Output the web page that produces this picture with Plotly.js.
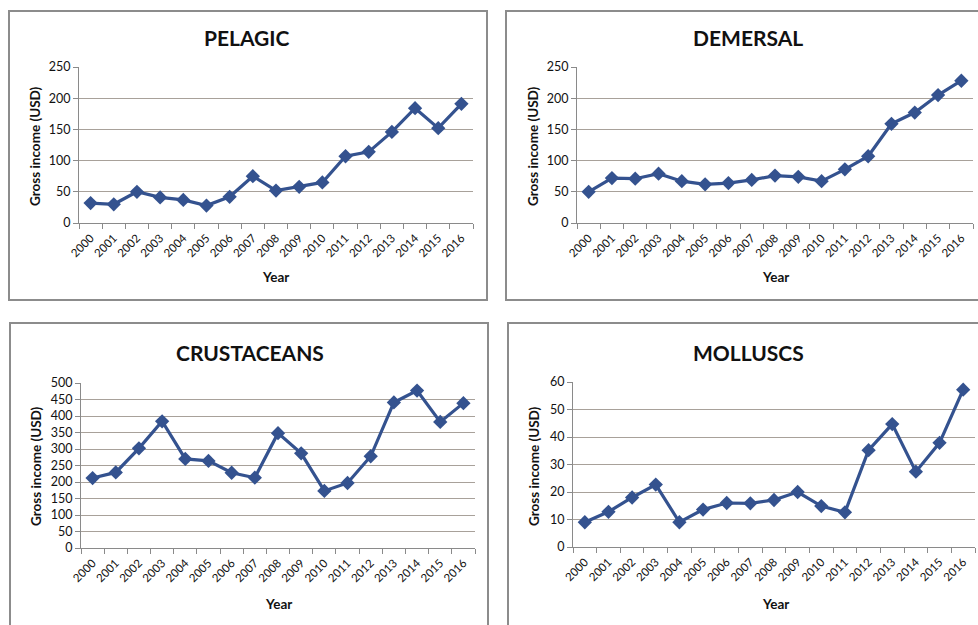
<!DOCTYPE html>
<html>
<head>
<meta charset="utf-8">
<script src="https://cdn.plot.ly/plotly-3.0.1.min.js"></script>
<style>
html,body{margin:0;padding:0;background:#fff;}
#chart{width:978px;height:625px;}
</style>
</head>
<body>
<div id="chart"></div>
<script>
const years = ["2000","2001","2002","2003","2004","2005","2006","2007","2008","2009","2010","2011","2012","2013","2014","2015","2016"];
const pelagic = [32, 30, 50, 41, 37, 28, 42, 75, 52, 58, 65, 107, 114, 146, 184, 152, 191];
const demersal = [50, 72, 71, 79, 67, 62, 64, 69, 76, 74, 67, 86, 107, 159, 177, 205, 228];
const crustaceans = [212, 229, 302, 384, 270, 264, 228, 213, 348, 287, 173, 197, 278, 441, 477, 382, 439];
const molluscs = [9, 12.8, 18, 22.7, 9, 13.6, 16, 15.9, 17.1, 20, 14.9, 12.6, 35.2, 44.7, 27.4, 37.9, 57.2];
const panelTitles = ["PELAGIC", "DEMERSAL", "CRUSTACEANS", "MOLLUSCS"];
const yTitle = "Gross income (USD)";
const xTitle = "Year";
const yMax = [250, 250, 500, 60];
const yStep = [50, 50, 50, 10];

const W = 978, H = 625;
const px = x => x / W;
const py = y => 1 - y / H;

const series = [pelagic, demersal, crustaceans, molluscs];
// plot areas in pixels [x0, x1, yTop, yBottom]
const areas = [[79, 473, 67, 223], [577, 973, 67, 223], [81, 475, 383, 548], [573, 975, 382, 547]];
// frames [x0, x1, y0, y1]
const frames = [[9, 487, 11, 300], [506, 990, 11, 300], [10, 488, 323, 640], [508, 990, 323, 640]];
const titlePos = [[247, 37], [748, 37], [250, 352], [748, 352]];
const yTitlePos = [[35, 146], [533, 146], [36, 466], [534, 466]];
const xTitlePos = [[275, 277], [775, 277], [278, 604], [775, 604]];

const lineColor = "#34528f";
const gridColor = "#a8a19a";
const font = "Lato, 'Open Sans', sans-serif";

const data = [];
const layout = {
  width: W, height: H,
  margin: {l: 0, r: 0, t: 0, b: 0},
  paper_bgcolor: "#ffffff",
  plot_bgcolor: "#ffffff",
  showlegend: false,
  font: {family: font, color: "#111"},
  shapes: [],
  annotations: []
};

series.forEach((vals, i) => {
  const n = i + 1;
  const xa = "xaxis" + (n === 1 ? "" : n);
  const ya = "yaxis" + (n === 1 ? "" : n);
  const a = areas[i];
  data.push({
    type: "scatter", mode: "lines+markers",
    x: years, y: vals,
    xaxis: "x" + (n === 1 ? "" : n), yaxis: "y" + (n === 1 ? "" : n),
    line: {color: lineColor, width: 3.2},
    marker: {symbol: "diamond", size: 11, color: lineColor},
    cliponaxis: false,
    hoverinfo: "x+y"
  });
  layout[xa] = {
    domain: [px(a[0]), px(a[1])],
    anchor: "y" + (n === 1 ? "" : n),
    type: "category",
    range: [-0.5, 16.5],
    tickson: "boundaries",
    ticks: "outside", ticklen: 5, tickcolor: "#8a8a8a",
    showline: true, linecolor: "#8a8a8a", linewidth: 1,
    showgrid: false, zeroline: false,
    tickangle: -45,
    ticklabelstandoff: 3,
    tickfont: {size: 11.5, family: font, color: "#111"}
  };
  layout[ya] = {
    domain: [py(a[3]), py(a[2])],
    anchor: "x" + (n === 1 ? "" : n),
    range: [0, yMax[i]],
    dtick: yStep[i], tick0: 0,
    ticks: "outside", ticklen: 5, tickcolor: "#8a8a8a",
    showline: true, linecolor: "#8a8a8a", linewidth: 1,
    showgrid: true, gridcolor: gridColor, gridwidth: 1,
    zeroline: false,
    tickfont: {size: 12.5, family: font, color: "#111"}
  };
  const f = frames[i];
  layout.shapes.push({
    type: "rect", xref: "paper", yref: "paper",
    x0: px(f[0]), x1: px(f[1]), y0: py(f[3]), y1: py(f[2]),
    line: {color: "#8c8c8c", width: 2}, fillcolor: "rgba(0,0,0,0)", layer: "below"
  });
  layout.annotations.push({
    xref: "paper", yref: "paper", x: px(titlePos[i][0]), y: py(titlePos[i][1]),
    text: "<b>" + panelTitles[i] + "</b>", showarrow: false,
    xanchor: "center", yanchor: "middle",
    font: {size: 21, family: font, color: "#111"}
  });
  layout.annotations.push({
    xref: "paper", yref: "paper", x: px(yTitlePos[i][0]), y: py(yTitlePos[i][1]),
    text: "<b>" + yTitle + "</b>", showarrow: false, textangle: -90,
    xanchor: "center", yanchor: "middle",
    font: {size: 13.5, family: font, color: "#111"}
  });
  layout.annotations.push({
    xref: "paper", yref: "paper", x: px(xTitlePos[i][0]), y: py(xTitlePos[i][1]),
    text: "<b>" + xTitle + "</b>", showarrow: false,
    xanchor: "center", yanchor: "middle",
    font: {size: 13.5, family: font, color: "#111"}
  });
});

Plotly.newPlot("chart", data, layout, {displayModeBar: false, staticPlot: true});
</script>
</body>
</html>
